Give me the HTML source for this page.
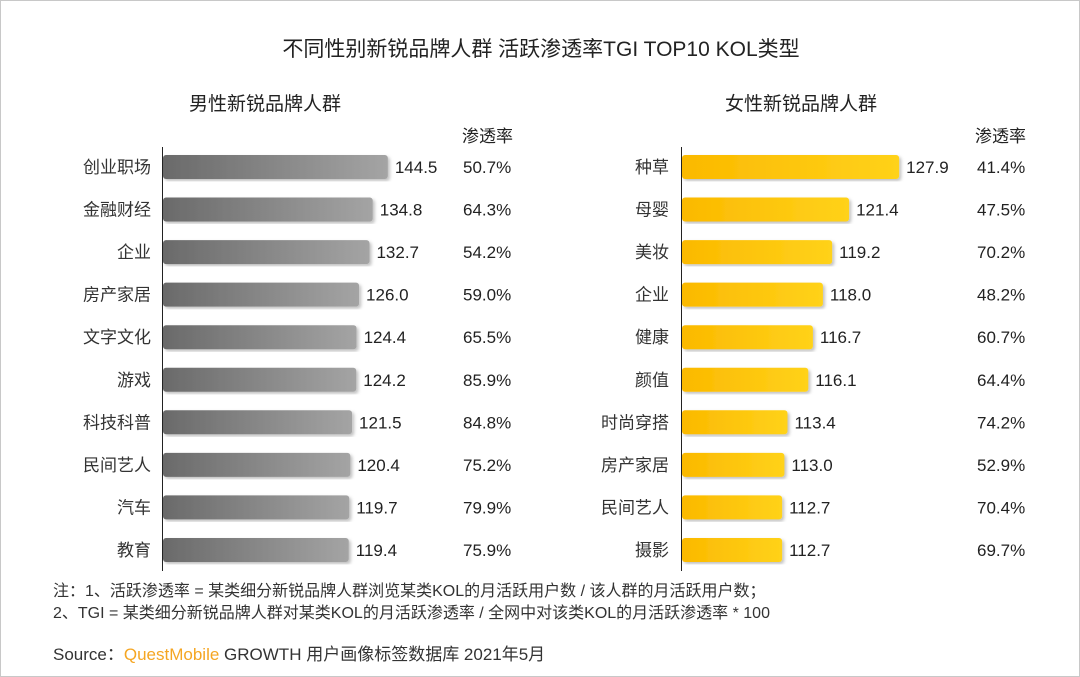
<!DOCTYPE html>
<html><head><meta charset="utf-8"><style>
body{margin:0;background:#fff}
#wrap{position:relative;width:1078px;height:675px;border:1px solid #c8c8c8;overflow:hidden;font-family:"Liberation Sans","Noto Sans CJK SC",sans-serif;color:#222}
.t{position:absolute;white-space:nowrap}
</style></head><body>
<div id="wrap">
<div class="t" style="left:0;width:1080px;text-align:center;top:32px;font-size:21px;">不同性别新锐品牌人群 活跃渗透率TGI TOP10 KOL类型</div>
<div class="t" style="left:188px;top:88px;font-size:19px;">男性新锐品牌人群</div>
<div class="t" style="left:724px;top:88px;font-size:19px;">女性新锐品牌人群</div>
<div class="t" style="left:461px;top:121px;font-size:17px;">渗透率</div>
<div class="t" style="left:974px;top:121px;font-size:17px;">渗透率</div>
<svg id="svg" width="1080" height="677" style="position:absolute;left:0;top:0">
<defs>
<linearGradient id="gm" x1="0" x2="1"><stop offset="0" stop-color="#6a6a6a"/><stop offset="1" stop-color="#a4a4a4"/></linearGradient>
<linearGradient id="gf" x1="0" x2="1"><stop offset="0" stop-color="#fbb900"/><stop offset="1" stop-color="#ffd21a"/></linearGradient>
<filter id="sh"><feDropShadow dx="2" dy="2" stdDeviation="1.5" flood-color="#000" flood-opacity="0.25"/></filter>
</defs>
</svg>
<div class="t" style="left:52px;top:576px;font-size:16px;color:#333">注：1、活跃渗透率 = 某类细分新锐品牌人群浏览某类KOL的月活跃用户数 / 该人群的月活跃用户数；</div>
<div class="t" style="left:52px;top:598px;font-size:16px;color:#333">2、TGI = 某类细分新锐品牌人群对某类KOL的月活跃渗透率 / 全网中对该类KOL的月活跃渗透率 * 100</div>
<div class="t" style="left:52px;top:639px;font-size:17px;color:#333">Source：<span style="color:#f5a623">QuestMobile</span> GROWTH 用户画像标签数据库 2021年5月</div>
</div>
<script>
const maleCats=["创业职场","金融财经","企业","房产家居","文字文化","游戏","科技科普","民间艺人","汽车","教育"];
const maleTGI=[144.5,134.8,132.7,126.0,124.4,124.2,121.5,120.4,119.7,119.4];
const maleRate=["50.7%","64.3%","54.2%","59.0%","65.5%","85.9%","84.8%","75.2%","79.9%","75.9%"];
const femaleCats=["种草","母婴","美妆","企业","健康","颜值","时尚穿搭","房产家居","民间艺人","摄影"];
const femaleTGI=[127.9,121.4,119.2,118.0,116.7,116.1,113.4,113.0,112.7,112.7];
const femaleRate=["41.4%","47.5%","70.2%","48.2%","60.7%","64.4%","74.2%","52.9%","70.4%","69.7%"];
const svg=document.getElementById('svg');const NS='http://www.w3.org/2000/svg';
function yRow(i){return 166+i*42.55;}
function xMale(v){return 162+v*1.556;}
function xFemale(v){return 681+(v-99.7)*7.7;}
function mk(tag,attrs,txt){const e=document.createElementNS(NS,tag);for(const k in attrs)e.setAttribute(k,attrs[k]);if(txt!=null)e.textContent=txt;svg.appendChild(e);return e;}
function panel(cats,vals,rates,x0,xf,fill,labelRight,rateX,pfx){
  for(let i=0;i<cats.length;i++){
    const y=yRow(i),x1=xf(vals[i]);
    const r=mk('rect',{x:x0,y:y-12,width:x1-x0,height:24,rx:3,fill:fill,filter:'url(#sh)'});
    
    
    const c=mk('text',{x:labelRight,y:y+6,'text-anchor':'end','font-size':17,fill:'#333'},cats[i]);
    
    
    const v=mk('text',{x:x1+7,y:y+6,'font-size':17,fill:'#222'},vals[i].toFixed(1));
    
    
    const p=mk('text',{x:rateX,y:y+6,'font-size':17,fill:'#222'},rates[i]);
    
    
  }
  const ax=mk('line',{x1:x0-0.5,x2:x0-0.5,y1:146,y2:570,stroke:'#222','stroke-width':1});
  
  
}
panel(maleCats,maleTGI,maleRate,162,xMale,'url(#gm)',150,462,'male');
panel(femaleCats,femaleTGI,femaleRate,681,xFemale,'url(#gf)',668,976,'female');
</script>
</body></html>
